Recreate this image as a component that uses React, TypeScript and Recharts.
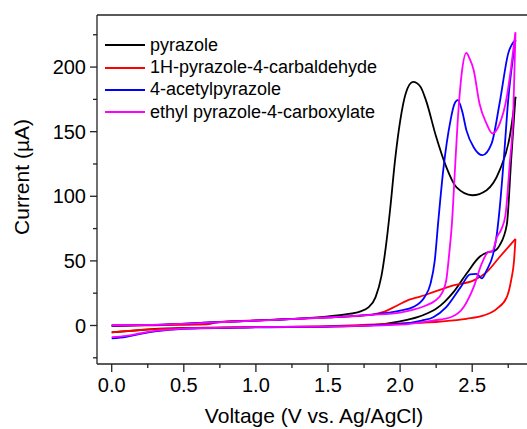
import { Line, LineChart, ReferenceLine, XAxis, YAxis } from 'recharts'

type Pt = [number, number]

// Cyclic voltammograms, potential in V vs. Ag/AgCl, current in µA.
// Each compound has a low-current branch and a high-current branch meeting at the 2.8 V vertex.
const PYRAZOLE_LOWER: Pt[] = [
  [0, -5.3], [0.15, -4], [0.3, -2.6], [0.5, -1.9], [1.0, -1.3], [1.5, -0.8], [1.8, 0.2],
  [2.0, 3.2], [2.12, 6.4], [2.19, 9.5], [2.25, 12.9], [2.31, 18.5], [2.37, 25.8], [2.46, 40],
  [2.55, 53], [2.61, 56.8], [2.65, 57.5], [2.69, 62], [2.74, 78], [2.77, 128], [2.8, 177],
]
const PYRAZOLE_UPPER: Pt[] = [
  [0, -0.5], [0.4, 0.8], [0.72, 2.5], [1.1, 4.3], [1.45, 6.5], [1.62, 8.5], [1.72, 10.8],
  [1.78, 14], [1.83, 22], [1.87, 38], [1.9, 60], [1.93, 89], [1.965, 128], [2.0, 158],
  [2.04, 180], [2.09, 188.5], [2.14, 185], [2.18, 174], [2.25, 146], [2.32, 122.7], [2.39, 107],
  [2.5, 100.8], [2.6, 104.7], [2.69, 120], [2.76, 146], [2.8, 177],
]

const CARBALDEHYDE_LOWER: Pt[] = [
  [0, -5.3], [0.2, -3.5], [0.5, -2], [1.0, -1.2], [1.5, -0.5], [2.0, 1.6], [2.28, 3.1],
  [2.46, 5.2], [2.58, 7.8], [2.67, 12.9], [2.74, 22], [2.77, 35], [2.79, 50], [2.8, 67],
]
const CARBALDEHYDE_UPPER: Pt[] = [
  [0, 0], [0.3, 0.2], [0.66, 0.8], [0.73, 2.5], [1.1, 4.4], [1.5, 6.3], [1.8, 8.3], [1.88, 10.3],
  [1.98, 15.5], [2.07, 20.2], [2.12, 21.7], [2.23, 25.8], [2.37, 31], [2.51, 34.9], [2.6, 41.3],
  [2.69, 53], [2.8, 67],
]

const ACETYL_LOWER: Pt[] = [
  [0, -10], [0.1, -8.8], [0.2, -6.5], [0.3, -4.6], [0.5, -2.6], [1.0, -1.4], [1.5, -0.8],
  [2.0, 1.2], [2.15, 3.8], [2.23, 6.4], [2.32, 14.2], [2.42, 29.7], [2.485, 39.5], [2.53, 40],
  [2.566, 36.5], [2.6, 42.6], [2.646, 55.6], [2.67, 70], [2.69, 90], [2.72, 130], [2.75, 175],
  [2.78, 205], [2.8, 221],
]
const ACETYL_UPPER: Pt[] = [
  [0, 0], [0.4, 0.8], [0.72, 2.5], [1.1, 4.3], [1.5, 6.3], [1.8, 8.4], [2.0, 11.6], [2.09, 14.2],
  [2.17, 22], [2.21, 32], [2.24, 50], [2.265, 81], [2.3, 121], [2.35, 159], [2.375, 171],
  [2.4, 174.4], [2.43, 166], [2.46, 151], [2.51, 138], [2.57, 131.8], [2.635, 141], [2.69, 172],
  [2.75, 210.6], [2.8, 221],
]

const ESTER_LOWER: Pt[] = [
  [0, -9], [0.1, -8], [0.2, -6], [0.3, -4.2], [0.5, -2.4], [1.0, -1.3], [1.5, -0.8], [2.0, 0.6],
  [2.23, 3.9], [2.35, 6.4], [2.44, 14.2], [2.51, 29.7], [2.566, 47.8], [2.61, 56.8], [2.64, 57.5],
  [2.67, 68], [2.7, 74], [2.73, 85], [2.76, 125], [2.785, 165], [2.8, 226],
]
const ESTER_UPPER: Pt[] = [
  [0, 0.2], [0.4, 0.9], [0.72, 2.4], [1.1, 4.2], [1.5, 6.2], [1.8, 8.2], [2.0, 10], [2.1, 12.5],
  [2.18, 15.5], [2.24, 19], [2.29, 25], [2.32, 35], [2.34, 55], [2.36, 80], [2.38, 120], [2.4, 159],
  [2.43, 197.7], [2.46, 211], [2.48, 207], [2.51, 197.7], [2.55, 172], [2.6, 156], [2.64, 148.6],
  [2.69, 156], [2.74, 177], [2.77, 200], [2.8, 227],
]

const X_TICKS = [0, 0.25, 0.5, 0.75, 1, 1.25, 1.5, 1.75, 2, 2.25, 2.5, 2.75]
const Y_TICKS = [-25, 0, 25, 50, 75, 100, 125, 150, 175, 200, 225]
const X_DOMAIN: [number, number] = [-0.102, 2.88]
const Y_DOMAIN: [number, number] = [-29.8, 240.3]

const SERIES = [
  { name: 'pyrazole', color: '#000000', lower: PYRAZOLE_LOWER, upper: PYRAZOLE_UPPER },
  { name: '1H-pyrazole-4-carbaldehyde', color: '#ff0000', lower: CARBALDEHYDE_LOWER, upper: CARBALDEHYDE_UPPER },
  { name: '4-acetylpyrazole', color: '#0000ff', lower: ACETYL_LOWER, upper: ACETYL_UPPER },
  { name: 'ethyl pyrazole-4-carboxylate', color: '#ff00ff', lower: ESTER_LOWER, upper: ESTER_UPPER },
]

const FONT = '"Liberation Sans", Arial, Helvetica, sans-serif'
const AXIS_COLOR = '#222222'

const toRows = (pts: Pt[]) => pts.map(([v, i]) => ({ v, i }))
const onStep = (v: number, step: number) => Math.abs(v / step - Math.round(v / step)) < 1e-6

function VoltageTick({ x, y, payload }: any) {
  const v = payload.value as number
  const major = onStep(v, 0.5)
  return (
    <g>
      <line x1={x} y1={y} x2={x} y2={y + (major ? 8 : 4)} stroke={AXIS_COLOR} strokeWidth={1.3} />
      {major && (
        <text x={x} y={y + 28} textAnchor="middle" fontSize={20} fontFamily={FONT} fill="#000">
          {v.toFixed(1)}
        </text>
      )}
    </g>
  )
}

function CurrentTick({ x, y, payload }: any) {
  const v = payload.value as number
  const major = onStep(v, 50)
  return (
    <g>
      <line x1={x - (major ? 7 : 4)} y1={y} x2={x} y2={y} stroke={AXIS_COLOR} strokeWidth={1.3} />
      {major && (
        <text x={x - 11} y={y} dy="0.36em" textAnchor="end" fontSize={20} fontFamily={FONT} fill="#000">
          {v}
        </text>
      )}
    </g>
  )
}

export default function App() {
  return (
    <div style={{ position: 'absolute', left: 0, top: 0, width: 527, height: 429, background: '#fff' }}>
      <LineChart width={527} height={429} margin={{ top: 15, right: 0, bottom: 0, left: 0 }}>
        <XAxis
          type="number"
          dataKey="v"
          domain={X_DOMAIN}
          allowDataOverflow
          ticks={X_TICKS}
          interval={0}
          height={65}
          tickSize={0}
          tickMargin={0}
          tickLine={false}
          tick={<VoltageTick />}
          axisLine={{ stroke: AXIS_COLOR, strokeWidth: 1.3 }}
          label={() => (
            <text x={314} y={423} textAnchor="middle" fontSize={21} fontFamily={FONT} fill="#000">
              Voltage (V vs. Ag/AgCl)
            </text>
          )}
        />
        <YAxis
          type="number"
          dataKey="i"
          domain={Y_DOMAIN}
          allowDataOverflow
          ticks={Y_TICKS}
          interval={0}
          width={97}
          tickSize={0}
          tickMargin={0}
          tickLine={false}
          tick={<CurrentTick />}
          axisLine={{ stroke: AXIS_COLOR, strokeWidth: 1.3 }}
          label={() => (
            <text
              x={21}
              y={177}
              dy="0.36em"
              transform="rotate(-90 21 177)"
              textAnchor="middle"
              fontSize={21}
              fontFamily={FONT}
              fill="#000"
            >
              Current (µA)
            </text>
          )}
        />
        <ReferenceLine y={Y_DOMAIN[1]} stroke={AXIS_COLOR} strokeWidth={1.3} />
        {SERIES.flatMap((s) => [
          <Line
            key={`${s.name}-lower`}
            data={toRows(s.lower)}
            dataKey="i"
            type="monotone"
            stroke={s.color}
            strokeWidth={1.8}
            dot={false}
            activeDot={false}
            isAnimationActive={false}
          />,
          <Line
            key={`${s.name}-upper`}
            data={toRows(s.upper)}
            dataKey="i"
            type="monotone"
            stroke={s.color}
            strokeWidth={1.8}
            dot={false}
            activeDot={false}
            isAnimationActive={false}
          />,
        ])}
      </LineChart>
      <div
        style={{
          position: 'absolute',
          left: 105,
          top: 34,
          fontFamily: FONT,
          fontSize: 18,
          color: '#000',
        }}
      >
        {SERIES.map((s) => (
          <div key={s.name} style={{ display: 'flex', alignItems: 'center', height: 22.4 }}>
            <svg width={40} height={4} style={{ marginRight: 5 }}>
              <line x1={0} y1={2} x2={40} y2={2} stroke={s.color} strokeWidth={2} />
            </svg>
            <span style={{ whiteSpace: 'nowrap' }}>{s.name}</span>
          </div>
        ))}
      </div>
    </div>
  )
}
